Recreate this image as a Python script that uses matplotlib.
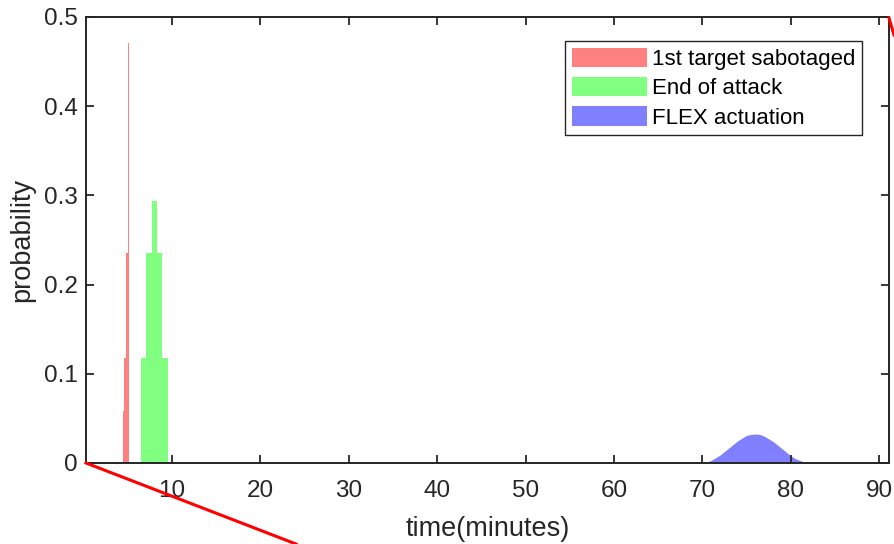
import matplotlib
matplotlib.use("Agg")
import matplotlib.pyplot as plt
import numpy as np
from matplotlib.lines import Line2D

plt.rcParams["font.family"] = ["Liberation Sans", "DejaVu Sans"]

# histogram data
sabotage_edges = [4.4, 4.6, 4.8, 5.0, 5.12]
sabotage_prob = [0.0588, 0.1176, 0.2353, 0.4706]

attack_edges = [6.5, 7.1, 7.7, 8.3, 8.9, 9.5]
attack_prob = [0.1176, 0.2353, 0.2941, 0.2353, 0.1176]

flex_time = [70.3, 70.5, 71.0, 71.5, 72.0, 72.5, 73.0, 73.5, 74.0, 74.5, 75.0, 75.5,
             76.0, 76.5, 77.0, 77.5, 78.0, 78.5, 79.0, 79.5, 80.0, 80.5, 81.0, 81.5, 81.8]
flex_prob = [0.0, 0.001, 0.003, 0.006, 0.009, 0.013, 0.017, 0.021, 0.025, 0.028, 0.031, 0.032,
             0.0325, 0.032, 0.030, 0.027, 0.024, 0.020, 0.016, 0.012, 0.008, 0.005, 0.003, 0.001, 0.0]

labels = ["1st target sabotaged", "End of attack", "FLEX actuation"]
xticks = [10, 20, 30, 40, 50, 60, 70, 80, 90]
yticks = [0, 0.1, 0.2, 0.3, 0.4, 0.5]

dark = "#262626"

fig = plt.figure(figsize=(8.94, 5.44), dpi=100)
ax = fig.add_axes([0.0962, 0.1489, 0.8982, 0.8199])

# red and green histograms, drawn as bars from the bin edges
h1 = ax.bar(sabotage_edges[:-1], sabotage_prob, width=np.diff(sabotage_edges), align="edge",
            color="#ff8080", linewidth=0)
h2 = ax.bar(attack_edges[:-1], attack_prob, width=np.diff(attack_edges), align="edge",
            color="#80ff80", linewidth=0)
h3 = ax.fill_between(flex_time, flex_prob, color="#8080ff", linewidth=0)

ax.set_xlim(0.27, 91.1)
ax.set_ylim(0, 0.5)
ax.set_xticks(xticks)
ax.set_yticks(yticks)
ax.set_yticklabels(["0", "0.1", "0.2", "0.3", "0.4", "0.5"])

ax.tick_params(direction="in", top=True, right=True, length=6, width=1.3,
               colors=dark, labelsize=17.5)
ax.tick_params(axis="x", pad=12)
ax.tick_params(axis="y", pad=6)
for s in ax.spines.values():
    s.set_linewidth(1.4)
    s.set_color(dark)

ax.set_xlabel("time(minutes)", fontsize=19.5, color=dark, labelpad=10)
ax.set_ylabel("probability", fontsize=19.5, color=dark, labelpad=6)

leg = ax.legend([h1, h2, h3], labels, loc="upper right", bbox_to_anchor=(0.966, 0.946),
                borderaxespad=0, fontsize=16, handlelength=3.4, handleheight=0.95,
                handletextpad=0.2, labelspacing=0.32, borderpad=0.3, fancybox=False,
                framealpha=1, edgecolor=dark)
leg.get_frame().set_linewidth(1.0)

# stray red lines running out of the axes
fig.add_artist(Line2D([86 / 894, 296 / 894], [1 - 463 / 544, 0.0],
                      transform=fig.transFigure, color="red", linewidth=2.2, clip_on=False))
fig.add_artist(Line2D([889 / 894, 1.0], [1 - 18 / 544, 1 - 35 / 544],
                      transform=fig.transFigure, color="red", linewidth=2.2, clip_on=False))

fig.savefig("out.png", dpi=100)
